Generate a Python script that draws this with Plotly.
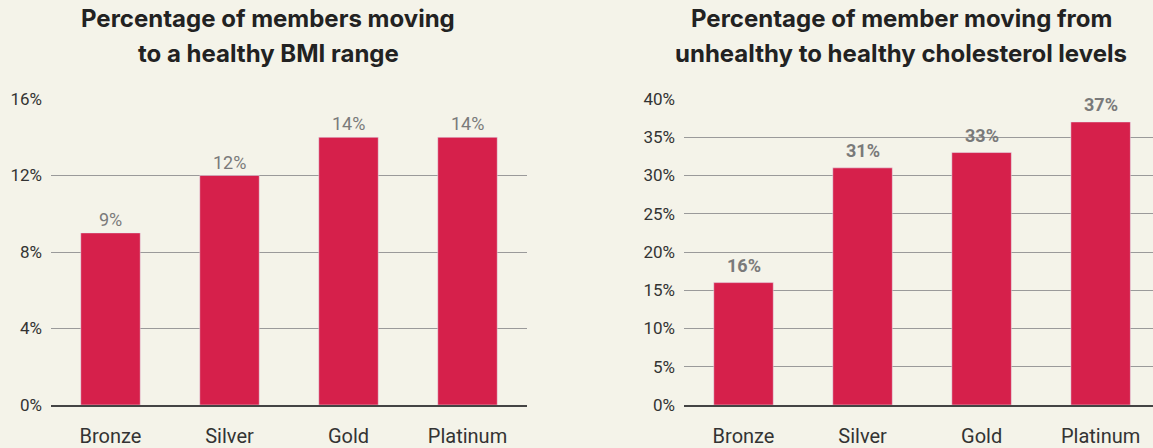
import plotly.graph_objects as go

categories = ["Bronze", "Silver", "Gold", "Platinum"]
bmi_values = [9, 12, 14, 14]
chol_values = [16, 31, 33, 37]
bmi_ticks = [0, 4, 8, 12, 16]
chol_ticks = [0, 5, 10, 15, 20, 25, 30, 35, 40]
title_left = ["Percentage of members moving", "to a healthy BMI range"]
title_right = ["Percentage of member moving from", "unhealthy to healthy cholesterol levels"]

W, H = 1153, 448
BG = "#F4F3E9"
BAR = "#D6204B"
FONT = "Roboto"
TFONT = "Inter"

fig = go.Figure()
fig.add_trace(go.Bar(x=categories, y=bmi_values, marker_color=BAR, xaxis="x", yaxis="y",
                     hoverinfo="skip"))
fig.add_trace(go.Bar(x=categories, y=chol_values, marker_color=BAR, xaxis="x2", yaxis="y2",
                     hoverinfo="skip"))

annotations = []
for c, v in zip(categories, bmi_values):
    annotations.append(dict(x=c, y=v, xref="x", yref="y", text=f"{v}%", showarrow=False,
                            yanchor="bottom", yshift=1,
                            font=dict(family=FONT, size=18, color="#7a7a7a")))
for c, v in zip(categories, chol_values):
    annotations.append(dict(x=c, y=v, xref="x2", yref="y2", text=f"<b>{v}%</b>", showarrow=False,
                            yanchor="bottom", yshift=5,
                            font=dict(family=FONT, size=18, color="#7a7a7a")))

def py(px):
    # convert pixel from top to paper y
    return (408 - px) / 309.0

for lines, cx in ((title_left, 268), (title_right, 901)):
    for line, cy in zip(lines, (18, 53)):
        annotations.append(dict(x=cx / W, y=py(cy), xref="paper", yref="paper", text=f"<b>{line}</b>",
                                showarrow=False, xanchor="center", yanchor="middle", align="center",
                                font=dict(family=TFONT, size=24, color="#222222")))

xaxis_common = dict(type="category", showgrid=False, showline=True, linecolor="#444444", linewidth=2,
                    ticks="", ticklabelstandoff=12, tickfont=dict(family=FONT, size=20, color="#333333"),
                    fixedrange=True)
yaxis_common = dict(showgrid=True, gridcolor="#9a9a9a", gridwidth=1, zeroline=False, showline=False,
                    ticks="", ticklabelstandoff=8, tickfont=dict(family=FONT, size=17, color="#333333"),
                    fixedrange=True)

fig.update_layout(
    width=W, height=H,
    paper_bgcolor=BG, plot_bgcolor=BG,
    margin=dict(l=0, r=0, t=99, b=40),
    showlegend=False,
    bargap=0.5,
    xaxis=dict(domain=[51 / W, 527 / W], range=[-0.5, 3.5], anchor="y", **xaxis_common),
    xaxis2=dict(domain=[684 / W, 1.0], range=[-0.5, 3.44], anchor="y2", **xaxis_common),
    yaxis=dict(range=[0, 16], tickvals=bmi_ticks, ticktext=[f"{t}%" for t in bmi_ticks],
               anchor="x", **yaxis_common),
    yaxis2=dict(range=[0, 40], tickvals=chol_ticks, ticktext=[f"{t}%" for t in chol_ticks],
                anchor="x2", **yaxis_common),
    annotations=annotations,
)

fig.write_html("out.html", config={"displayModeBar": False},
               post_script="document.body.style.margin='0';document.body.style.overflow='hidden';")
